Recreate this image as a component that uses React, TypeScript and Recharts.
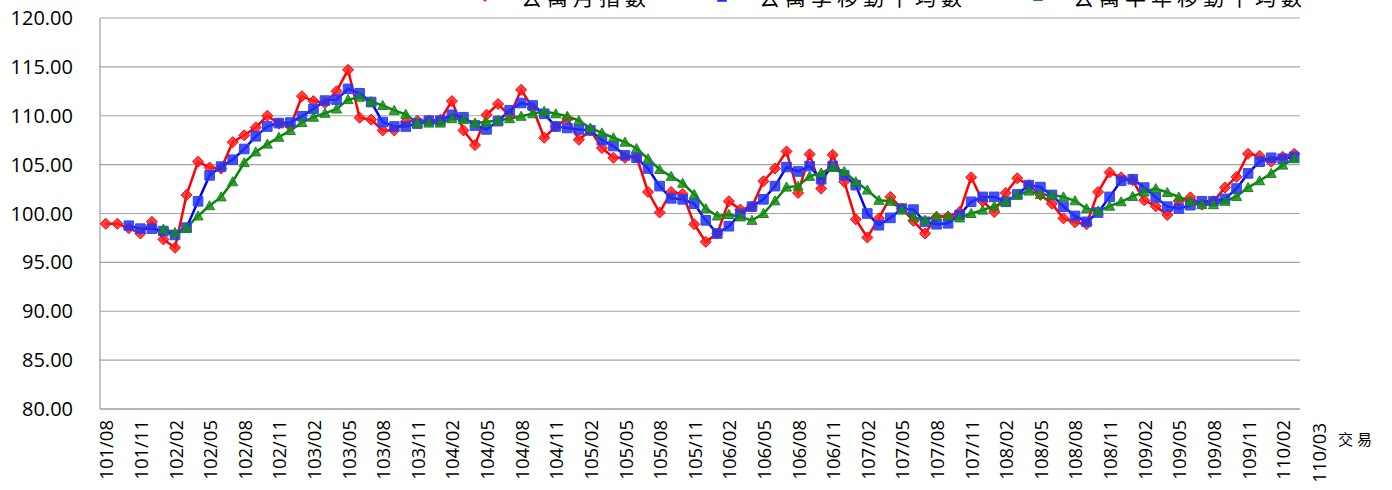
import { LineChart, Line, XAxis, YAxis, CartesianGrid } from "recharts";

const MONTHS = [
  "101/08", "101/09", "101/10", "101/11", "101/12",
  "102/01", "102/02", "102/03", "102/04", "102/05", "102/06", "102/07", "102/08", "102/09", "102/10", "102/11", "102/12",
  "103/01", "103/02", "103/03", "103/04", "103/05", "103/06", "103/07", "103/08", "103/09", "103/10", "103/11", "103/12",
  "104/01", "104/02", "104/03", "104/04", "104/05", "104/06", "104/07", "104/08", "104/09", "104/10", "104/11", "104/12",
  "105/01", "105/02", "105/03", "105/04", "105/05", "105/06", "105/07", "105/08", "105/09", "105/10", "105/11", "105/12",
  "106/01", "106/02", "106/03", "106/04", "106/05", "106/06", "106/07", "106/08", "106/09", "106/10", "106/11", "106/12",
  "107/01", "107/02", "107/03", "107/04", "107/05", "107/06", "107/07", "107/08", "107/09", "107/10", "107/11", "107/12",
  "108/01", "108/02", "108/03", "108/04", "108/05", "108/06", "108/07", "108/08", "108/09", "108/10", "108/11", "108/12",
  "109/01", "109/02", "109/03", "109/04", "109/05", "109/06", "109/07", "109/08", "109/09", "109/10", "109/11", "109/12",
  "110/01", "110/02", "110/03",
];

// 公寓月指數
const MONTHLY_INDEX = [
  98.95, 98.95, 98.5, 97.95, 99.15,
  97.35, 96.5, 101.9, 105.3, 104.7, 104.6, 107.3, 108.0, 108.8, 110.0, 109.2, 108.9,
  112.0, 111.5, 111.3, 112.5, 114.7, 109.8, 109.6, 108.5, 108.5, 109.4, 109.5, 109.5,
  109.6, 111.5, 108.5, 107.0, 110.1, 111.2, 110.0, 112.65, 110.8, 107.75, 108.9, 109.7,
  107.55, 108.5, 106.7, 105.7, 105.7, 105.8, 102.2, 100.1, 102.2, 102.0, 98.9, 97.1,
  97.95, 101.25, 100.4, 100.7, 103.3, 104.6, 106.35, 102.1, 106.05, 102.55, 106.0, 103.25,
  99.4, 97.55, 99.5, 101.7, 100.5, 99.25, 97.95, 99.65, 99.7, 100.15, 103.7, 101.25,
  100.15, 102.1, 103.6, 102.9, 101.9, 101.0, 99.5, 99.1, 98.9, 102.2, 104.2, 103.7,
  103.4, 101.35, 100.75, 99.85, 101.25, 101.65, 100.9, 101.25, 102.65, 103.75, 106.1, 105.9,
  105.3, 105.8, 106.1,
];

// 公寓季移動平均數
const QUARTER_AVG = [
  null, null, 98.75, 98.45, 98.45,
  98.2, 97.8, 98.55, 101.25, 103.9, 104.8, 105.5, 106.6, 107.9, 108.9, 109.25, 109.3,
  109.95, 110.7, 111.55, 111.65, 112.75, 112.3, 111.4, 109.35, 108.9, 108.9, 109.2, 109.5,
  109.5, 110.1, 109.85, 109.0, 108.6, 109.45, 110.55, 111.3, 111.05, 110.2, 108.9, 108.75,
  108.6, 108.5, 107.5, 106.9, 105.95, 105.7, 104.6, 102.8, 101.55, 101.45, 101.0, 99.3,
  97.95, 98.7, 99.95, 100.7, 101.45, 102.8, 104.75, 104.3, 104.85, 103.5, 104.85, 103.9,
  102.9, 100.0, 98.8, 99.55, 100.5, 100.4, 99.15, 98.9, 99.0, 99.85, 101.2, 101.7,
  101.7, 101.2, 101.95, 102.9, 102.7, 101.9, 100.7, 99.75, 99.15, 100.1, 101.7, 103.35,
  103.5, 102.65, 101.65, 100.7, 100.5, 100.85, 101.25, 101.25, 101.5, 102.55, 104.1, 105.3,
  105.7, 105.6, 105.8,
];

// 公寓半年移動平均數
const HALF_YEAR_AVG = [
  null, null, null, null, null,
  98.4, 98.05, 98.55, 99.75, 100.8, 101.7, 103.25, 105.2, 106.3, 107.1, 107.8, 108.5,
  109.3, 109.85, 110.25, 110.7, 111.65, 111.9, 111.45, 111.05, 110.55, 110.15, 109.25, 109.25,
  109.25, 109.7, 109.6, 109.25, 109.35, 109.55, 109.7, 109.95, 110.2, 110.45, 110.2, 109.95,
  109.5, 108.75, 108.25, 107.75, 107.3, 106.65, 105.6, 104.5, 103.8, 103.1, 101.95, 100.5,
  99.75, 99.9, 99.65, 99.3, 100.0, 101.3, 102.7, 102.8, 103.8, 104.15, 104.7, 104.3,
  103.25, 102.4, 101.35, 101.25, 100.35, 99.65, 99.3, 99.75, 99.75, 99.55, 100.0, 100.35,
  100.75, 101.2, 101.9, 102.3, 101.95, 101.9, 101.7, 101.3, 100.5, 100.25, 100.75, 101.2,
  101.75, 102.2, 102.55, 102.15, 101.7, 101.25, 100.9, 100.9, 101.25, 101.75, 102.65, 103.35,
  104.1, 104.95, 105.6,
];

const Y_TICKS = [80, 85, 90, 95, 100, 105, 110, 115, 120];
const SERIES_NAMES = ["公寓月指數", "公寓季移動平均數", "公寓半年移動平均數"];
const AXIS_TITLE = "交易";

const COLORS = {
  monthly: "#FF0000",
  quarter: "#0000FF",
  half: "#0A850A",
};

const data = MONTHS.map((month, i) => ({
  month,
  monthly: MONTHLY_INDEX[i],
  quarter: QUARTER_AVG[i],
  half: HALF_YEAR_AVG[i],
}));

const LAST_MONTH = MONTHS[MONTHS.length - 1];
const X_TICKS = MONTHS.filter((_, i) => i % 3 === 0).concat(LAST_MONTH);

const diamondPath = (cx, cy, r) =>
  `M${cx},${cy - r}L${cx + r},${cy}L${cx},${cy + r}L${cx - r},${cy}Z`;
const squarePath = (cx, cy, r) =>
  `M${cx - r},${cy - r}H${cx + r}V${cy + r}H${cx - r}Z`;
const trianglePath = (cx, cy, r) =>
  `M${cx},${cy - r}L${cx + r},${cy + r * 0.8}L${cx - r},${cy + r * 0.8}Z`;

const makeDot = (shape, fill, stroke, r) => (props) => {
  const { cx, cy, index } = props;
  if (cx == null || cy == null || isNaN(cy)) return <g key={`e-${index}`} />;
  return (
    <path
      key={`m-${index}`}
      d={shape(cx, cy, r)}
      fill={fill}
      fillOpacity={0.85}
      stroke={stroke}
      strokeWidth={1}
    />
  );
};

const redDot = makeDot(diamondPath, "#FF2020", "#FF0000", 5.5);
const blueDot = makeDot(squarePath, "#2233EE", "#3344FF", 4.8);
const greenDot = makeDot(trianglePath, "#1A8C1A", "#138A13", 5);

const XTick = ({ x, y, payload }) => {
  const last = payload.value === LAST_MONTH;
  const tx = x + (last ? 24 : 0);
  const ty = y + (last ? 14 : 11);
  return (
    <text
      x={tx}
      y={ty}
      transform={`rotate(-90 ${tx} ${ty})`}
      textAnchor="end"
      dominantBaseline="central"
      fontSize={18.5}
      fontFamily="Open Sans"
      fill="#000"
    >
      {payload.value}
    </text>
  );
};

export default function App() {
  return (
    <div style={{ position: "absolute", left: 0, top: 0, width: 1392, height: 490, background: "#fff" }}>
      <LineChart
        width={1392}
        height={490}
        data={data}
        margin={{ top: 18, right: 92, left: 0, bottom: 0 }}
      >
        <CartesianGrid vertical={false} stroke="#a3a3a3" strokeWidth={1.2} />
        <XAxis
          dataKey="month"
          ticks={X_TICKS}
          interval={0}
          tick={<XTick />}
          tickLine={false}
          tickSize={0}
          tickMargin={0}
          height={81}
          padding={{ left: 5.77, right: 5.77 }}
          axisLine={{ stroke: "#9a9a9a", strokeWidth: 1.2 }}
        />
        <YAxis
          domain={[80, 120]}
          ticks={Y_TICKS}
          interval={0}
          width={100}
          tickFormatter={(v) => v.toFixed(2)}
          tickLine={false}
          tickSize={0}
          tickMargin={27}
          axisLine={{ stroke: "#9a9a9a", strokeWidth: 1.2 }}
          tick={{ fontSize: 20, fill: "#000", fontFamily: "Open Sans" }}
        />
        <Line
          dataKey="monthly"
          stroke={COLORS.monthly}
          strokeWidth={2.5}
          dot={redDot}
          activeDot={false}
          isAnimationActive={false}
        />
        <Line
          dataKey="quarter"
          stroke={COLORS.quarter}
          strokeWidth={2.5}
          dot={blueDot}
          activeDot={false}
          isAnimationActive={false}
        />
        <Line
          dataKey="half"
          stroke={COLORS.half}
          strokeWidth={2.5}
          dot={greenDot}
          activeDot={false}
          isAnimationActive={false}
        />
      </LineChart>

      {/* legend sits mostly above the visible area, like the original */}
      <svg
        width={1392}
        height={490}
        style={{ position: "absolute", left: 0, top: 0, pointerEvents: "none" }}
      >
        <line x1={462} y1={-4} x2={508} y2={-4} stroke={COLORS.monthly} strokeWidth={2.5} />
        <path d={diamondPath(485, -3.5, 5.5)} fill="#FF2020" />
        <line x1={699} y1={-4} x2={745} y2={-4} stroke={COLORS.quarter} strokeWidth={2.5} />
        <path d={squarePath(722, -3, 4.8)} fill="#2233EE" />
        <line x1={1015} y1={-4} x2={1061} y2={-4} stroke={COLORS.half} strokeWidth={2.5} />
        <path d={trianglePath(1038, -3, 5)} fill="#1A8C1A" />
        {[521, 759, 1073].map((x, i) => (
          <text
            key={SERIES_NAMES[i]}
            x={x}
            y={4.5}
            fontSize={21}
            letterSpacing={5}
            fontFamily="Noto Sans CJK TC"
            fill="#000"
          >
            {SERIES_NAMES[i]}
          </text>
        ))}
        <text
          x={1338}
          y={445}
          fontSize={15}
          letterSpacing={4}
          fontFamily="Noto Sans CJK TC"
          fill="#000"
        >
          {AXIS_TITLE}
        </text>
      </svg>
    </div>
  );
}
